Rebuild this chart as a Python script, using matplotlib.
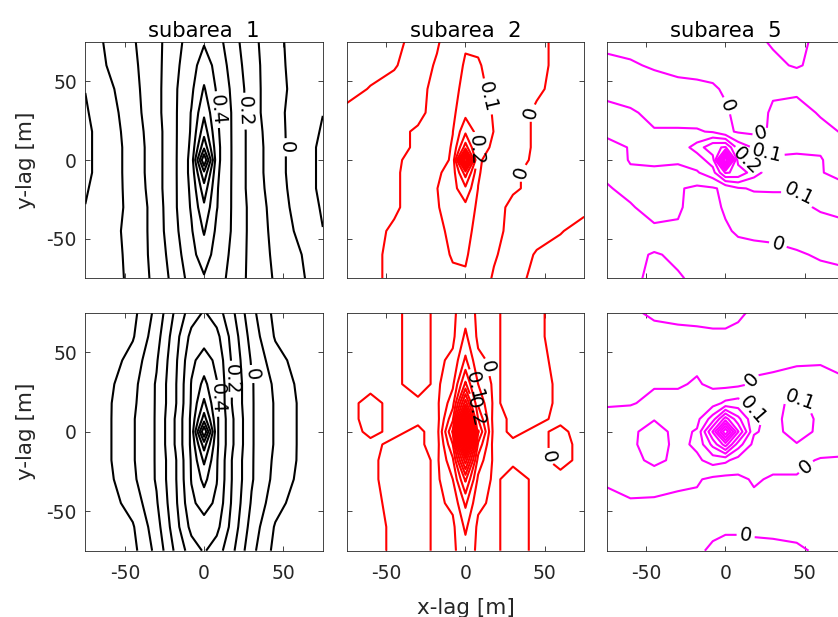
import numpy as np
import matplotlib
matplotlib.use('Agg')
import matplotlib.pyplot as plt

plt.rcParams['font.family'] = ['DejaVu Sans']
plt.rcParams['axes.unicode_minus'] = False

# lag grid [m]; rows below are written from y = +75 (top) down to y = -75
lag_x = [-75, -60, -45, -30, -18, -8, 0, 8, 18, 30, 45, 60, 75]
lag_y = [75, 60, 45, 30, 18, 8, 0, -8, -18, -30, -45, -60, -75]

sub1_top = [
    [-0.06, 0.02, 0.09, 0.17, 0.27, 0.34, 0.39, 0.34, 0.24, 0.13, 0.03, -0.05, -0.098],
    [-0.08, 0.01, 0.08, 0.17, 0.28, 0.36, 0.45, 0.37, 0.26, 0.14, 0.03, -0.04, -0.098],
    [-0.098, -0.02, 0.07, 0.17, 0.29, 0.38, 0.51, 0.39, 0.28, 0.15, 0.02, -0.02, -0.08],
    [-0.11, -0.04, 0.06, 0.17, 0.29, 0.405, 0.58, 0.41, 0.29, 0.15, 0.02, -0.03, -0.098],
    [-0.12, -0.05, 0.05, 0.16, 0.29, 0.41, 0.66, 0.42, 0.29, 0.16, 0.03, -0.04, -0.11],
    [-0.12, -0.05, 0.04, 0.16, 0.29, 0.42, 0.78, 0.43, 0.29, 0.16, 0.04, -0.05, -0.12],
    [-0.12, -0.05, 0.04, 0.16, 0.29, 0.43, 1.00, 0.43, 0.29, 0.16, 0.04, -0.05, -0.12],
    [-0.12, -0.05, 0.04, 0.16, 0.29, 0.43, 0.78, 0.42, 0.29, 0.16, 0.04, -0.05, -0.12],
    [-0.11, -0.04, 0.03, 0.16, 0.29, 0.42, 0.66, 0.41, 0.29, 0.16, 0.05, -0.05, -0.12],
    [-0.098, -0.03, 0.02, 0.15, 0.29, 0.41, 0.58, 0.405, 0.29, 0.17, 0.06, -0.04, -0.11],
    [-0.08, -0.02, 0.02, 0.15, 0.28, 0.39, 0.51, 0.38, 0.29, 0.17, 0.07, -0.02, -0.098],
    [-0.098, -0.04, 0.03, 0.14, 0.26, 0.37, 0.45, 0.36, 0.28, 0.17, 0.08, 0.01, -0.08],
    [-0.098, -0.05, 0.03, 0.13, 0.24, 0.34, 0.39, 0.34, 0.27, 0.17, 0.09, 0.02, -0.06],
]

sub1_bot = [
    [-0.29, -0.27, -0.23, -0.07, 0.12, 0.25, 0.31, 0.25, 0.12, -0.07, -0.23, -0.27, -0.29],
    [-0.29, -0.26, -0.21, -0.04, 0.16, 0.33, 0.36, 0.33, 0.16, -0.04, -0.21, -0.26, -0.29],
    [-0.28, -0.25, -0.16, -0.01, 0.18, 0.38, 0.44, 0.38, 0.18, -0.01, -0.16, -0.24, -0.28],
    [-0.27, -0.22, -0.13, 0.01, 0.19, 0.405, 0.53, 0.405, 0.19, 0.01, -0.12, -0.22, -0.27],
    [-0.26, -0.21, -0.12, 0.01, 0.19, 0.41, 0.62, 0.41, 0.19, 0.01, -0.11, -0.21, -0.26],
    [-0.26, -0.21, -0.11, 0.01, 0.21, 0.42, 0.75, 0.42, 0.21, 0.01, -0.11, -0.21, -0.26],
    [-0.26, -0.21, -0.11, 0.01, 0.21, 0.42, 1.00, 0.42, 0.21, 0.01, -0.11, -0.21, -0.26],
    [-0.26, -0.21, -0.11, 0.01, 0.21, 0.42, 0.75, 0.42, 0.21, 0.01, -0.11, -0.21, -0.26],
    [-0.26, -0.21, -0.11, 0.01, 0.19, 0.41, 0.62, 0.41, 0.19, 0.01, -0.12, -0.21, -0.26],
    [-0.27, -0.22, -0.12, 0.01, 0.19, 0.405, 0.53, 0.405, 0.19, 0.01, -0.13, -0.22, -0.27],
    [-0.28, -0.24, -0.16, -0.01, 0.18, 0.38, 0.44, 0.38, 0.18, -0.01, -0.16, -0.25, -0.28],
    [-0.29, -0.26, -0.21, -0.04, 0.16, 0.33, 0.36, 0.33, 0.16, -0.04, -0.21, -0.26, -0.29],
    [-0.29, -0.27, -0.23, -0.07, 0.12, 0.25, 0.31, 0.25, 0.12, -0.07, -0.23, -0.27, -0.29],
]

sub2_top = [
    [-0.15, -0.15, -0.13, -0.06, -0.01, 0.05, 0.09, 0.08, 0.04, 0.02, 0.01, -0.01, -0.02],
    [-0.14, -0.13, -0.11, -0.04, 0.01, 0.06, 0.11, 0.11, 0.06, 0.02, 0.01, -0.01, -0.02],
    [-0.13, -0.095, -0.06, -0.02, 0.02, 0.07, 0.13, 0.12, 0.08, 0.03, 0.01, -0.02, -0.03],
    [-0.08, -0.06, -0.04, -0.02, 0.03, 0.08, 0.17, 0.13, 0.095, 0.03, -0.01, -0.03, -0.04],
    [-0.06, -0.05, -0.02, 0.01, 0.04, 0.098, 0.28, 0.16, 0.098, 0.03, -0.01, -0.03, -0.04],
    [-0.05, -0.04, -0.02, 0.01, 0.04, 0.11, 0.45, 0.15, 0.08, 0.03, -0.01, -0.03, -0.05],
    [-0.05, -0.04, -0.01, 0.02, 0.04, 0.12, 1.00, 0.12, 0.04, 0.02, -0.01, -0.04, -0.05],
    [-0.05, -0.03, -0.01, 0.03, 0.08, 0.15, 0.45, 0.11, 0.04, 0.01, -0.02, -0.04, -0.05],
    [-0.04, -0.03, -0.01, 0.03, 0.098, 0.16, 0.28, 0.098, 0.04, 0.01, -0.02, -0.05, -0.06],
    [-0.04, -0.03, -0.01, 0.03, 0.095, 0.13, 0.17, 0.08, 0.03, -0.02, -0.04, -0.06, -0.08],
    [-0.03, -0.02, 0.01, 0.03, 0.08, 0.12, 0.13, 0.07, 0.02, -0.02, -0.06, -0.095, -0.13],
    [-0.02, -0.01, 0.01, 0.02, 0.06, 0.11, 0.11, 0.06, 0.01, -0.04, -0.11, -0.13, -0.14],
    [-0.02, -0.01, 0.01, 0.02, 0.04, 0.08, 0.09, 0.05, -0.01, -0.06, -0.13, -0.15, -0.15],
]

sub2_bot = [
    [-0.02, -0.02, -0.01, 0.02, -0.01, -0.01, 0.03, -0.01, -0.01, 0.02, 0.01, -0.02, -0.02],
    [-0.02, -0.02, -0.01, 0.02, -0.01, -0.01, 0.06, -0.01, -0.01, 0.02, 0.01, -0.02, -0.02],
    [-0.02, -0.02, -0.01, 0.02, -0.01, 0.01, 0.11, 0.01, -0.01, 0.02, 0.01, -0.01, -0.02],
    [-0.02, -0.01, -0.01, 0.02, -0.01, 0.04, 0.21, 0.05, -0.01, 0.02, 0.02, -0.01, -0.02],
    [-0.01, 0.01, -0.01, -0.01, -0.01, 0.08, 0.38, 0.09, -0.01, 0.02, 0.02, -0.01, -0.02],
    [-0.01, 0.01, -0.01, -0.01, -0.02, 0.14, 0.62, 0.15, -0.02, 0.01, 0.01, -0.01, -0.02],
    [-0.02, 0.01, -0.01, 0.01, -0.02, 0.21, 1.00, 0.21, -0.02, 0.01, -0.01, 0.01, -0.02],
    [-0.02, -0.01, 0.01, 0.01, -0.02, 0.15, 0.62, 0.14, -0.02, -0.01, -0.01, 0.01, -0.01],
    [-0.02, -0.01, 0.02, 0.02, -0.01, 0.09, 0.38, 0.08, -0.01, -0.01, -0.01, 0.01, -0.01],
    [-0.02, -0.01, 0.02, 0.02, -0.01, 0.05, 0.21, 0.04, -0.01, 0.02, -0.01, -0.01, -0.02],
    [-0.02, -0.01, 0.01, 0.02, -0.01, 0.01, 0.11, 0.01, -0.01, 0.02, -0.01, -0.02, -0.02],
    [-0.02, -0.02, 0.01, 0.02, -0.01, -0.01, 0.06, -0.01, -0.01, 0.02, -0.01, -0.02, -0.02],
    [-0.02, -0.02, 0.01, 0.02, -0.01, -0.01, 0.03, -0.01, -0.01, 0.02, -0.01, -0.02, -0.02],
]

sub5_top = [
    [-0.02, -0.03, -0.04, -0.05, -0.05, -0.06, -0.06, -0.07, -0.08, -0.11, -0.12, -0.08, -0.05],
    [0.02, 0.01, -0.01, -0.03, -0.03, -0.03, -0.04, -0.05, -0.06, -0.08, -0.11, -0.07, -0.04],
    [0.07, 0.06, 0.04, 0.03, 0.02, 0.01, -0.01, -0.02, -0.02, -0.01, -0.02, -0.03, -0.04],
    [0.13, 0.11, 0.08, 0.06, 0.05, 0.03, 0.01, -0.02, -0.03, 0.01, 0.04, -0.01, -0.04],
    [0.12, 0.12, 0.105, 0.11, 0.11, 0.09, 0.02, -0.01, -0.02, 0.01, 0.05, 0.03, -0.01],
    [0.07, 0.105, 0.12, 0.14, 0.24, 0.38, 0.41, 0.16, 0.09, 0.08, 0.09, 0.09, 0.02],
    [0.06, 0.105, 0.11, 0.11, 0.15, 0.25, 1.00, 0.25, 0.15, 0.11, 0.11, 0.105, 0.06],
    [0.02, 0.09, 0.09, 0.08, 0.09, 0.16, 0.41, 0.38, 0.24, 0.14, 0.12, 0.105, 0.07],
    [-0.01, 0.03, 0.05, 0.01, -0.02, -0.01, 0.02, 0.09, 0.11, 0.11, 0.105, 0.12, 0.12],
    [-0.04, -0.01, 0.04, 0.01, -0.03, -0.02, 0.01, 0.03, 0.05, 0.06, 0.08, 0.11, 0.13],
    [-0.04, -0.03, -0.02, -0.01, -0.02, -0.02, -0.01, 0.01, 0.02, 0.03, 0.04, 0.06, 0.07],
    [-0.04, -0.07, -0.11, -0.08, -0.06, -0.05, -0.04, -0.03, -0.03, -0.03, -0.01, 0.01, 0.02],
    [-0.05, -0.08, -0.12, -0.11, -0.08, -0.07, -0.06, -0.06, -0.05, -0.05, -0.04, -0.03, -0.02],
]

sub5_bot = [
    [-0.02, -0.01, 0.01, 0.02, 0.02, 0.02, 0.02, 0.01, -0.01, -0.02, -0.03, -0.03, -0.03],
    [-0.03, -0.03, -0.02, -0.02, -0.015, -0.01, -0.01, -0.015, -0.02, -0.03, -0.03, -0.03, -0.03],
    [-0.05, -0.05, -0.05, -0.04, -0.02, -0.05, -0.06, -0.05, -0.02, -0.02, -0.01, -0.005, -0.02],
    [-0.03, -0.02, -0.01, -0.01, 0.01, -0.02, -0.03, -0.02, 0.01, 0.02, 0.03, 0.02, 0.01],
    [-0.01, -0.01, 0.03, 0.03, 0.04, 0.06, 0.12, 0.14, 0.08, 0.07, 0.13, 0.06, 0.03],
    [0.03, 0.06, 0.095, 0.06, 0.07, 0.25, 0.55, 0.33, 0.12, 0.07, 0.15, 0.08, 0.04],
    [0.03, 0.08, 0.14, 0.07, 0.11, 0.51, 1.00, 0.51, 0.11, 0.07, 0.14, 0.08, 0.03],
    [0.04, 0.08, 0.15, 0.07, 0.12, 0.33, 0.55, 0.25, 0.07, 0.06, 0.095, 0.06, 0.03],
    [0.03, 0.06, 0.13, 0.07, 0.08, 0.14, 0.12, 0.06, 0.04, 0.03, 0.03, -0.01, -0.01],
    [0.01, 0.02, 0.03, 0.02, 0.01, -0.02, -0.03, -0.02, 0.01, -0.01, -0.01, -0.02, -0.03],
    [-0.02, -0.005, -0.01, -0.02, -0.02, -0.05, -0.06, -0.05, -0.02, -0.04, -0.05, -0.05, -0.05],
    [-0.03, -0.03, -0.03, -0.03, -0.02, -0.015, -0.01, -0.01, -0.015, -0.02, -0.02, -0.03, -0.03],
    [-0.03, -0.03, -0.03, -0.02, -0.01, 0.01, 0.02, 0.02, 0.02, 0.02, 0.01, -0.01, -0.02],
]

lev_sub1 = [-0.2, -0.1, 0.0, 0.1, 0.2, 0.3, 0.4, 0.5, 0.6, 0.7, 0.8, 0.9]
lev_sub2_top = [-0.1, 0.0, 0.1, 0.2, 0.3, 0.4, 0.5, 0.6, 0.7, 0.8, 0.9]
lev_sub2_bot = [-0.1, -0.05, 0.0, 0.05, 0.1, 0.15, 0.2, 0.25, 0.3, 0.35, 0.4, 0.45,
                0.5, 0.55, 0.6, 0.65, 0.7, 0.75, 0.8, 0.85, 0.9, 0.95]
lev_sub5 = [-0.1, 0.0, 0.1, 0.2, 0.3, 0.4, 0.5, 0.6, 0.7, 0.8, 0.9]

# (level, x, y) where MATLAB put the inline labels
lab_sub1_top = [(0.4, 9, 32), (0.2, 27, 31), (0.0, 49, 8)]
lab_sub1_bot = [(0.4, 7, 21), (0.2, 14, 33), (0.0, 28, 36)]
lab_sub2_top = [(0.1, 13, 40), (0.0, 40, 30), (0.2, 5, 6), (0.0, 34, -8)]
lab_sub2_bot = [(0.0, 11, 40), (0.1, 5, 28), (0.2, 7, 13), (0.0, 56, -16)]
lab_sub5_top = [(0.0, 11, 38), (0.0, 23, 16), (0.1, 26, 4), (0.2, 13, -1),
                (0.1, 45, -23), (0.0, 33, -54)]
lab_sub5_bot = [(0.0, 13, 35), (0.1, 18, 14), (0.1, 45, 16), (0.0, 49, -20), (0.0, 13, -64)]

titles = ['subarea  1', 'subarea  2', 'subarea  5']

panels = [
    [(sub1_top, lev_sub1, 'k', lab_sub1_top),
     (sub2_top, lev_sub2_top, '#ff0000', lab_sub2_top),
     (sub5_top, lev_sub5, '#ff00ff', lab_sub5_top)],
    [(sub1_bot, lev_sub1, 'k', lab_sub1_bot),
     (sub2_bot, lev_sub2_bot, '#ff0000', lab_sub2_bot),
     (sub5_bot, lev_sub5, '#ff00ff', lab_sub5_bot)],
]

W, H = 838, 617
fig = plt.figure(figsize=(W / 100, H / 100), dpi=100)

col_left = [85.3, 346.7, 606.7]
ax_w = 237.5
row_top = [41.7, 312.7]
ax_h = [236.6, 238.0]
fs_tick = 13.5
fs_label = 15.5


def fmt(v):
    return f'{v:g}'


for r in range(2):
    for c in range(3):
        z, levels, color, labels = panels[r][c]
        ax = fig.add_axes([col_left[c] / W, 1 - (row_top[r] + ax_h[r]) / H,
                           ax_w / W, ax_h[r] / H])
        zz = np.array(z)[::-1]
        yy = lag_y[::-1]
        # one contour set per level, so each label can be put on its own level
        sets = {}
        for lev in levels:
            if zz.min() < lev < zz.max():
                sets[lev] = ax.contour(lag_x, yy, zz, levels=[lev], colors=color,
                                       linewidths=1.5, linestyles='solid')
        for lev, x, y in labels:
            ax.clabel(sets[lev], manual=[(x, y)], inline=True, inline_spacing=3,
                      fontsize=14, colors='k', fmt=fmt)
        ax.set_xlim(-75, 75)
        ax.set_ylim(-75, 75)
        ax.set_xticks([-50, 0, 50])
        ax.set_yticks([-50, 0, 50])
        ax.tick_params(direction='in', top=True, right=True, length=3.5, width=0.6,
                       color='0.15', labelcolor='0.15', labelsize=fs_tick)
        ax.tick_params(axis='x', pad=9.5)
        ax.tick_params(axis='y', pad=6)
        for s in ax.spines.values():
            s.set_color('0.15')
            s.set_linewidth(0.6)
        if c > 0:
            ax.set_yticklabels([])
        if r == 0:
            ax.set_xticklabels([])
            ax.set_title(titles[c], fontsize=15.2, pad=3.5)

for r in range(2):
    yc = 1 - (row_top[r] + ax_h[r] / 2) / H
    fig.text(26 / W, yc, 'y-lag [m]', rotation=90, ha='center', va='center',
             fontsize=fs_label, color='0.15')
fig.text(465.7 / W, 1 - 614.5 / H, 'x-lag [m]', ha='center', va='baseline',
         fontsize=fs_label, color='0.15')

fig.savefig('out.png', dpi=100)
